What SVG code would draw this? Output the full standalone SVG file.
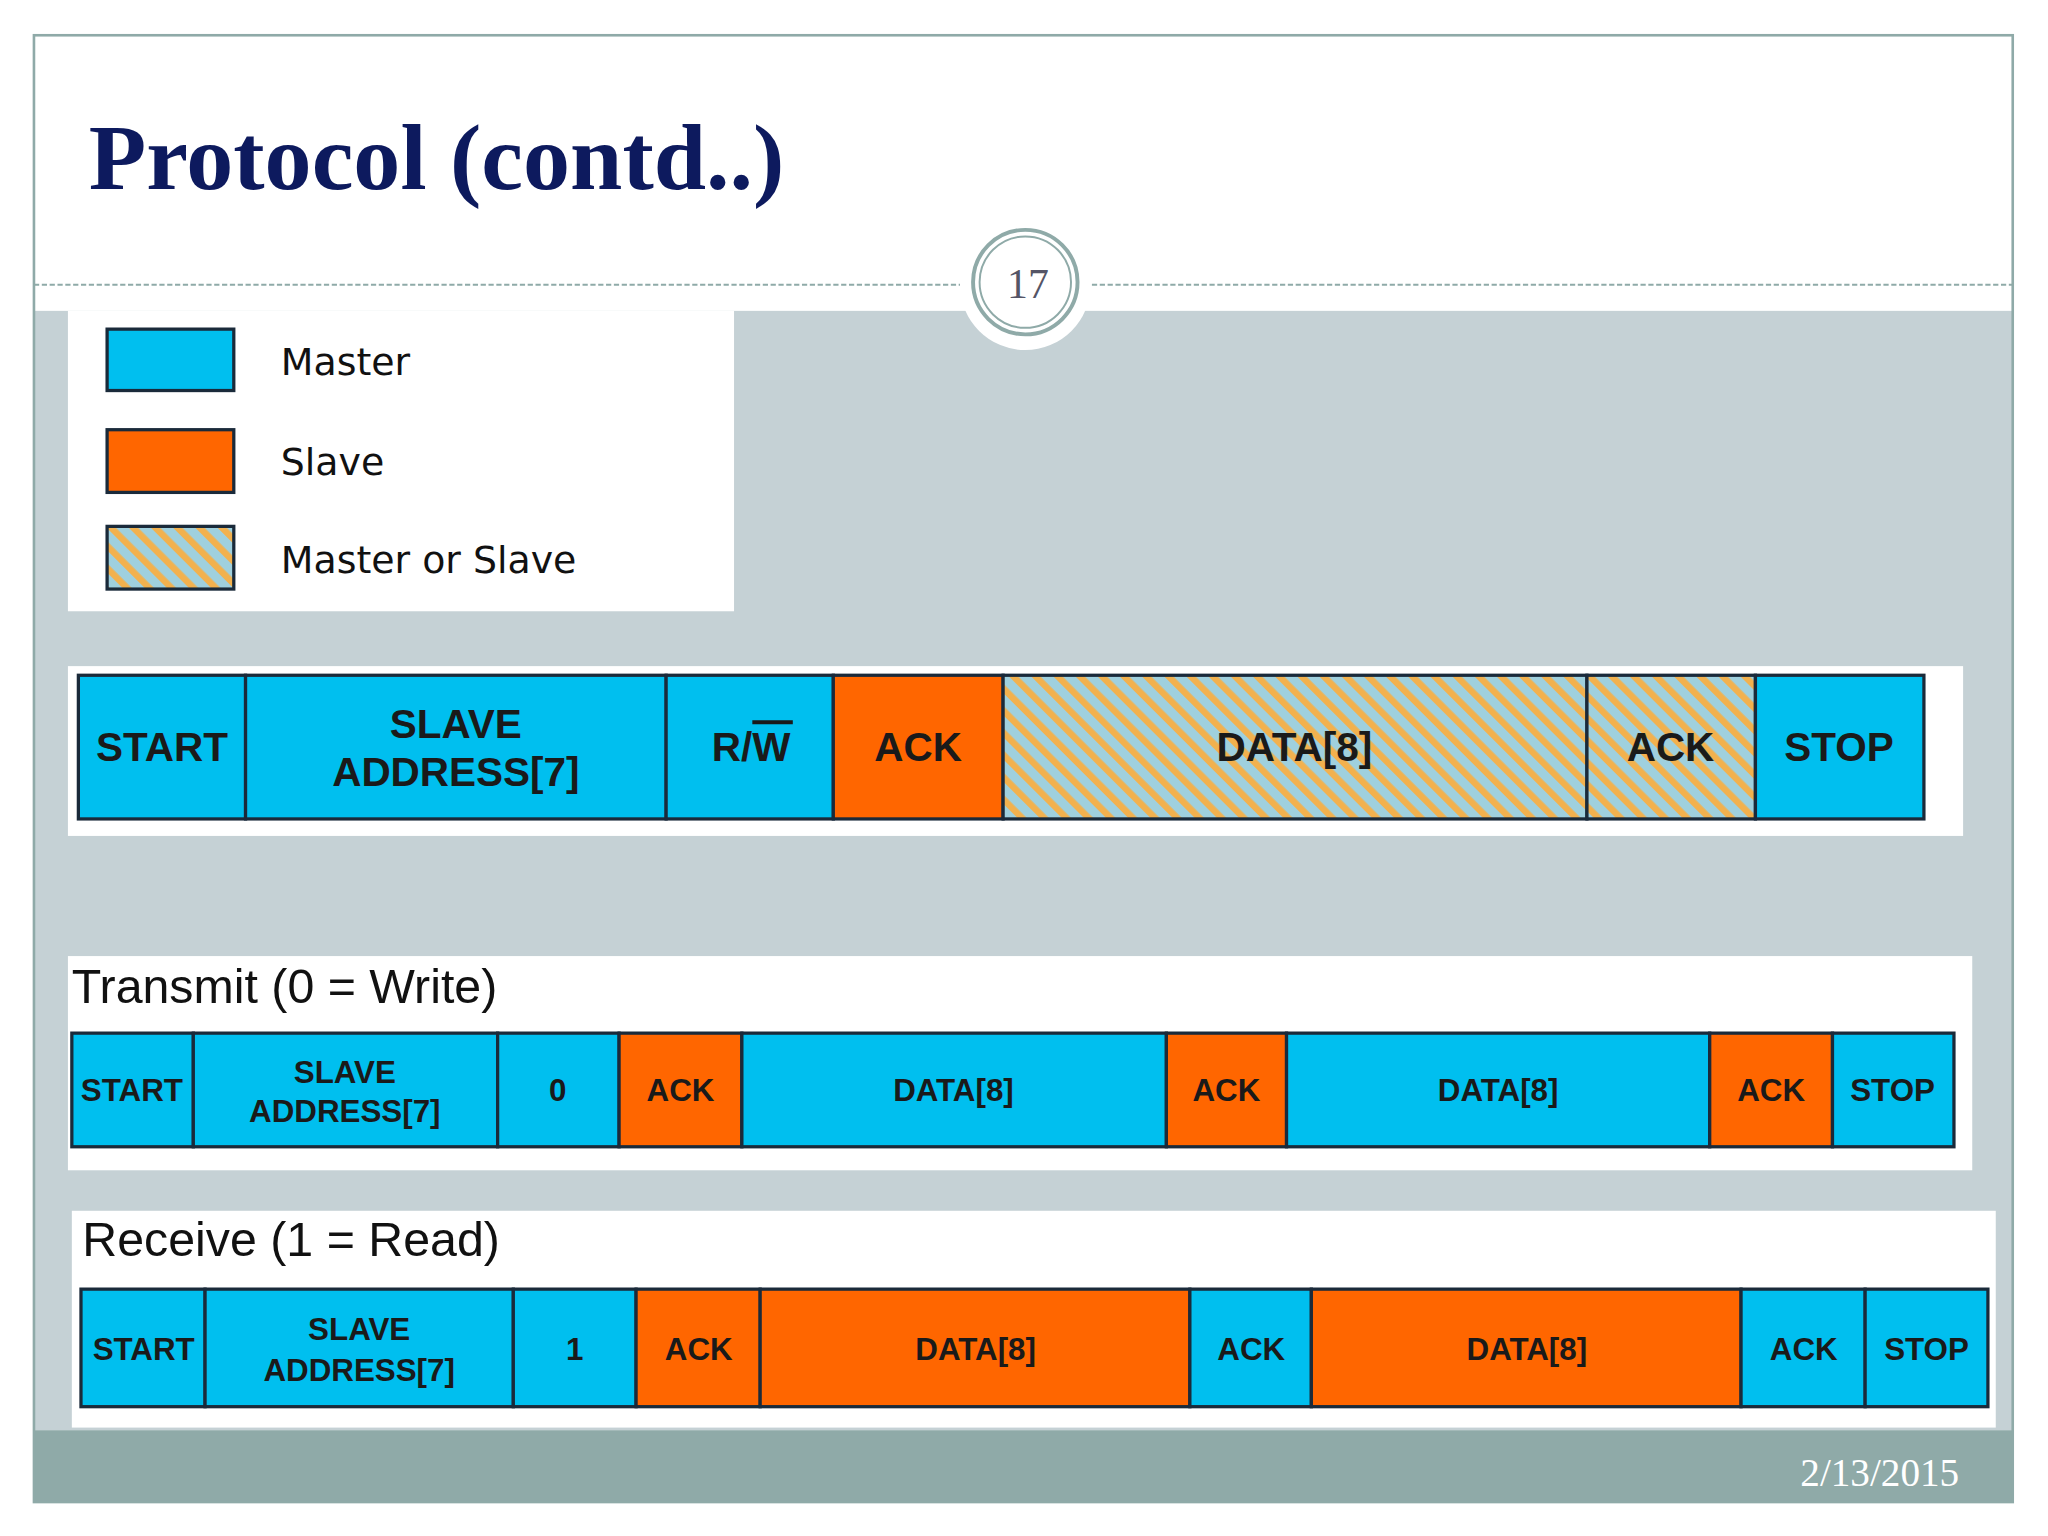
<svg xmlns="http://www.w3.org/2000/svg" width="2048" height="1536" viewBox="0 0 2048 1536">
<defs>
<pattern id="hatch" width="12" height="12" patternUnits="userSpaceOnUse" patternTransform="rotate(-45)">
<rect width="12" height="12" fill="#9fd0de"/>
<rect width="5" height="12" fill="#f2b14e"/>
</pattern>
<style>
.m{fill:#00bfef;stroke:#1a2a3a;stroke-width:2.5}
.s{fill:#ff6600;stroke:#1a2a3a;stroke-width:2.5}
.h{fill:url(#hatch);stroke:#1a2a3a;stroke-width:2.5}
.t1{font-family:"Liberation Sans",Arial,sans-serif;font-weight:bold;font-size:31px;fill:#1a1a1a;text-anchor:middle}
.t2{font-family:"Liberation Sans",Arial,sans-serif;font-weight:bold;font-size:24px;fill:#1a1a1a;text-anchor:middle}
.lg{font-family:"DejaVu Sans",Verdana,sans-serif;font-size:29px;fill:#111}
.hd{font-family:"Liberation Sans",Arial,sans-serif;font-size:37px;fill:#111}
</style>
</defs>
<g transform="scale(1.30612)">
<rect x="0" y="0" width="1568" height="1176" fill="#fff"/>
<g id="slide">
<rect x="26" y="238" width="1515" height="857" fill="#c5d1d5"/>
<rect x="26" y="1095" width="1515" height="55" fill="#8faaa8"/>
<rect x="26" y="27" width="1515" height="1123" fill="none" stroke="#8faaa8" stroke-width="2"/>
<line x1="26" y1="218" x2="735" y2="218" stroke="#8faaa8" stroke-width="1.5" stroke-dasharray="4 2"/>
<line x1="836" y1="218" x2="1541" y2="218" stroke="#8faaa8" stroke-width="1.5" stroke-dasharray="4 2"/>
<circle cx="785" cy="218" r="50" fill="#fff"/>
<circle cx="785" cy="216" r="40" fill="#fff" stroke="#8faaa8" stroke-width="3"/>
<circle cx="785" cy="216" r="35" fill="none" stroke="#8faaa8" stroke-width="1.5"/>
<text x="787" y="228" font-family="Liberation Serif,serif" font-size="32" fill="#556" text-anchor="middle">17</text>
<text x="68" y="145" font-family="Liberation Serif,serif" font-weight="bold" font-size="72" fill="#0d1a5e">Protocol (contd..)</text>
<text x="1500" y="1138" font-family="Liberation Serif,serif" font-size="30" fill="#fff" text-anchor="end">2/13/2015</text>
</g>
<g id="legend">
<rect x="52" y="238" width="510" height="230" fill="#fff"/>
<rect class="m" x="82" y="252" width="97" height="47"/>
<rect class="s" x="82" y="329" width="97" height="48"/>
<rect class="h" x="82" y="403" width="97" height="48"/>
<text class="lg" x="215" y="287">Master</text>
<text class="lg" x="215" y="364">Slave</text>
<text class="lg" x="215" y="439">Master or Slave</text>
</g>
<g id="frame-general">
<rect x="52" y="510" width="1451" height="130" fill="#fff"/>
<rect class="m" x="60" y="517" width="128" height="110"/>
<rect class="m" x="188" y="517" width="322" height="110"/>
<rect class="m" x="510" y="517" width="128" height="110"/>
<rect class="s" x="638" y="517" width="130" height="110"/>
<rect class="h" x="768" y="517" width="447" height="110"/>
<rect class="h" x="1215" y="517" width="129" height="110"/>
<rect class="m" x="1344" y="517" width="129" height="110"/>
<text class="t1" x="124" y="583">START</text>
<text class="t1" x="349" y="565">SLAVE</text>
<text class="t1" x="349" y="602">ADDRESS[7]</text>
<text class="t1" x="575" y="583">R/W</text>
<line x1="576" y1="553" x2="607" y2="553" stroke="#1a1a1a" stroke-width="3"/>
<text class="t1" x="703" y="583">ACK</text>
<text class="t1" x="991" y="583">DATA[8]</text>
<text class="t1" x="1279" y="583">ACK</text>
<text class="t1" x="1408" y="583">STOP</text>
</g>
<g id="frame-transmit">
<rect x="52" y="732" width="1458" height="164" fill="#fff"/>
<text class="hd" x="55" y="768">Transmit (0 = Write)</text>
<rect class="m" x="55" y="791" width="93" height="87"/>
<rect class="m" x="148" y="791" width="233" height="87"/>
<rect class="m" x="381" y="791" width="93" height="87"/>
<rect class="s" x="474" y="791" width="94" height="87"/>
<rect class="m" x="568" y="791" width="325" height="87"/>
<rect class="s" x="893" y="791" width="92" height="87"/>
<rect class="m" x="985" y="791" width="324" height="87"/>
<rect class="s" x="1309" y="791" width="94" height="87"/>
<rect class="m" x="1403" y="791" width="93" height="87"/>
<text class="t2" x="101" y="843">START</text>
<text class="t2" x="264" y="829">SLAVE</text>
<text class="t2" x="264" y="859">ADDRESS[7]</text>
<text class="t2" x="427" y="843">0</text>
<text class="t2" x="521" y="843">ACK</text>
<text class="t2" x="730" y="843">DATA[8]</text>
<text class="t2" x="939" y="843">ACK</text>
<text class="t2" x="1147" y="843">DATA[8]</text>
<text class="t2" x="1356" y="843">ACK</text>
<text class="t2" x="1449" y="843">STOP</text>
</g>
<g id="frame-receive">
<rect x="55" y="927" width="1473" height="166" fill="#fff"/>
<text class="hd" x="63" y="962">Receive (1 = Read)</text>
<rect class="m" x="62" y="987" width="95" height="90"/>
<rect class="m" x="157" y="987" width="236" height="90"/>
<rect class="m" x="393" y="987" width="94" height="90"/>
<rect class="s" x="487" y="987" width="95" height="90"/>
<rect class="s" x="582" y="987" width="329" height="90"/>
<rect class="m" x="911" y="987" width="93" height="90"/>
<rect class="s" x="1004" y="987" width="329" height="90"/>
<rect class="m" x="1333" y="987" width="95" height="90"/>
<rect class="m" x="1428" y="987" width="94" height="90"/>
<text class="t2" x="110" y="1041">START</text>
<text class="t2" x="275" y="1026">SLAVE</text>
<text class="t2" x="275" y="1057">ADDRESS[7]</text>
<text class="t2" x="440" y="1041">1</text>
<text class="t2" x="535" y="1041">ACK</text>
<text class="t2" x="747" y="1041">DATA[8]</text>
<text class="t2" x="958" y="1041">ACK</text>
<text class="t2" x="1169" y="1041">DATA[8]</text>
<text class="t2" x="1381" y="1041">ACK</text>
<text class="t2" x="1475" y="1041">STOP</text>
</g>
<g id="connectors"/>
</g>
</svg>
